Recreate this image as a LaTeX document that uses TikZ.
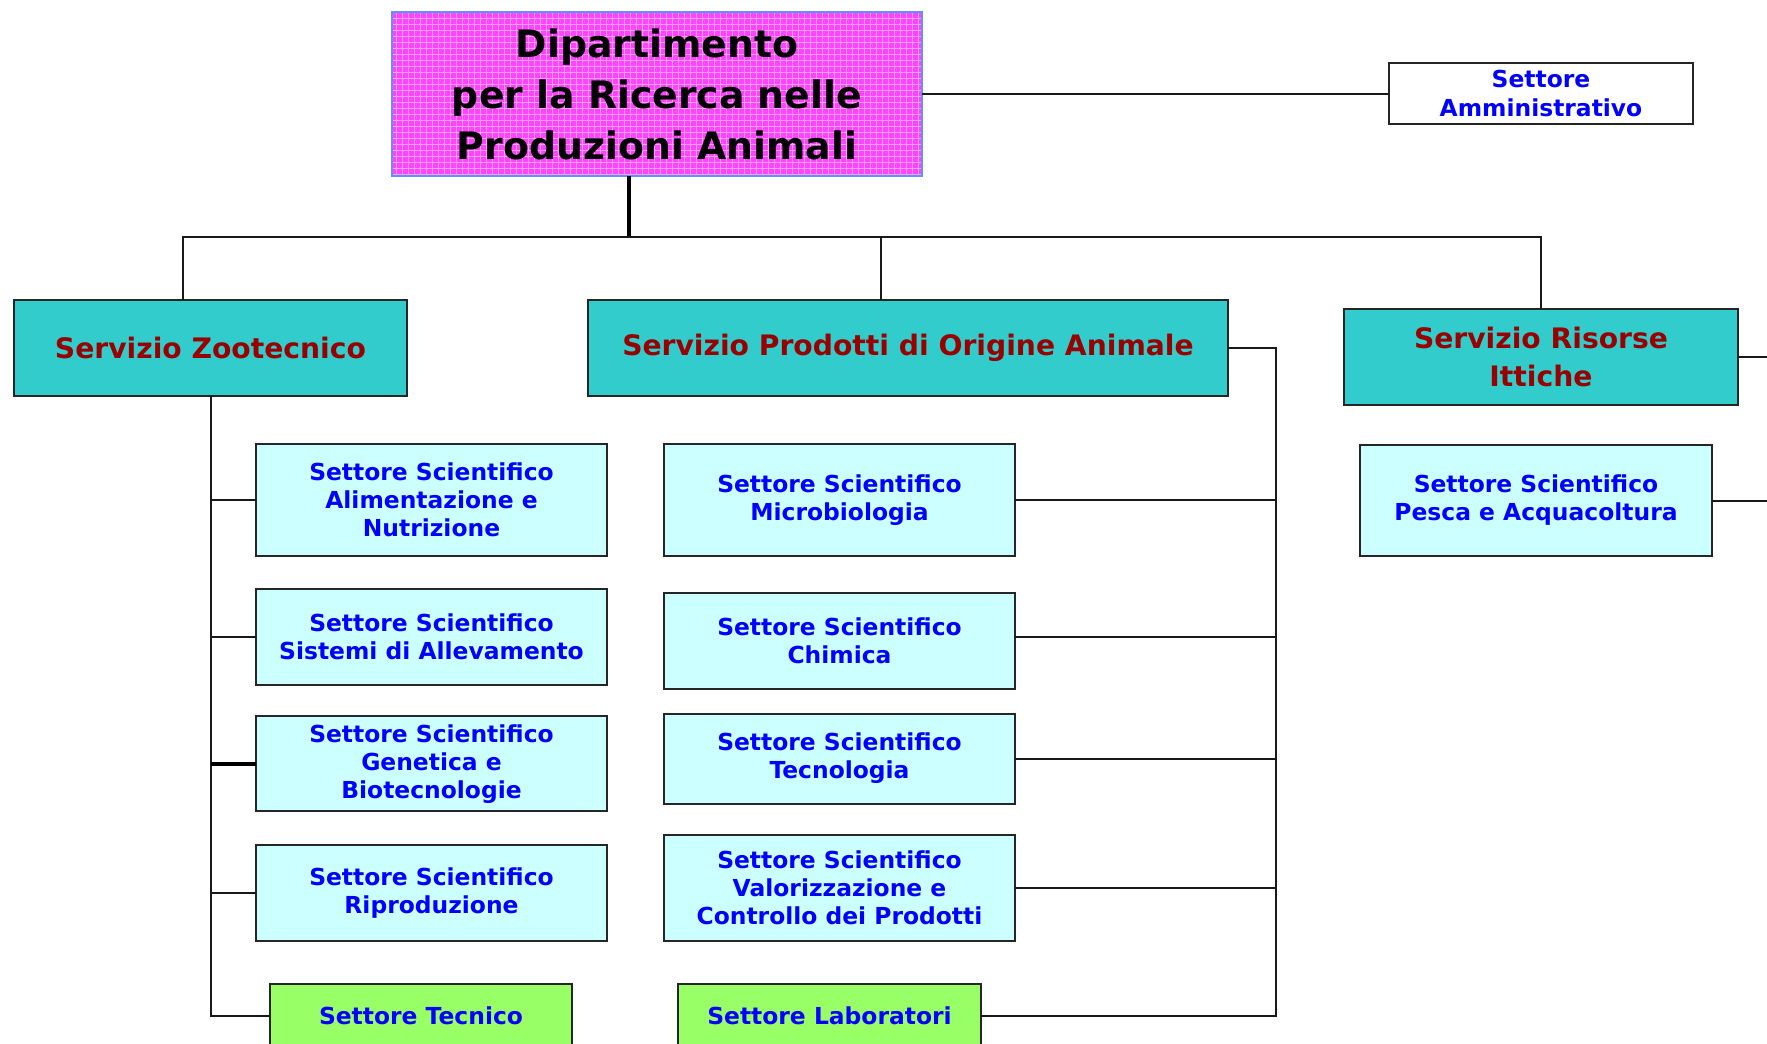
\documentclass[tikz,border=0pt]{standalone}
\usepackage{fontspec}
\setmainfont{DejaVu Sans}
\usepackage{tikz}
\usetikzlibrary{calc,patterns,positioning}

\definecolor{dipmag}{HTML}{FF44FF}
\definecolor{dipgrid}{HTML}{FFA0FF}
\definecolor{dipline}{HTML}{6090FF}
\definecolor{servteal}{HTML}{33CCCC}
\definecolor{servred}{HTML}{990000}
\definecolor{settcyan}{HTML}{CCFFFF}
\definecolor{tecgreen}{HTML}{99FF66}
\definecolor{settblue}{HTML}{0000FF}

\begin{document}
\begin{tikzpicture}[x=0.5pt, y=-0.5pt, auto]
	\tikzstyle{main}=[rectangle, draw=black!85, line width=1pt, inner sep=0pt, outer sep=0pt, align=center]
	\tikzstyle{dip}=[main, draw=dipline, preaction={fill=dipmag}, pattern=grid, pattern color=dipgrid, minimum width=265pt, minimum height=82pt, font=\fontsize{18.9}{25.5}\selectfont\bfseries]
	\tikzstyle{servizio}=[main, fill=servteal, text=servred, minimum height=48pt, font=\fontsize{14.1}{19}\selectfont\bfseries]
	\tikzstyle{settore}=[main, fill=settcyan, text=settblue, minimum width=175.5pt, font=\fontsize{11.7}{14}\selectfont\bfseries]
	\tikzstyle{tecnico}=[settore, fill=tecgreen, minimum width=151pt, minimum height=32pt]
	\tikzstyle{amm}=[settore, fill=white, minimum width=152pt, minimum height=30.5pt, font=\fontsize{11.7}{14.5}\selectfont\bfseries]
	\tikzstyle{link}=[line width=1pt, draw=black!90]
	\tikzstyle{trunk}=[line width=1.6pt, draw=black]
	
	\useasboundingbox (0,0) rectangle (1767,1044);
	
	\node[dip] (dip) at (657,94) {Dipartimento\\per la Ricerca nelle\\Produzioni Animali};
	\node[amm] (amm) at (1541,93.5) {Settore\\Amministrativo};
	
	\node[servizio, minimum width=196.5pt] (zoo) at (210.5,348) {Servizio Zootecnico};
	\node[servizio, minimum width=320pt] (pro) at (908,348) {Servizio Prodotti di Origine Animale};
	\node[servizio, minimum width=197pt] (ris) at (1541,357) {Servizio Risorse\\Ittiche};
	
	\node[settore, minimum height=56pt] (ali) at (431.5,500) {Settore Scientifico\\Alimentazione e\\Nutrizione};
	\node[settore, minimum height=48pt] (sis) [below=16.5pt of ali] {Settore Scientifico\\Sistemi di Allevamento};
	\node[settore, minimum height=47.5pt] (gen) [below=15.7pt of sis] {Settore Scientifico\\Genetica e\\Biotecnologie};
	\node[settore, minimum height=48pt] (rip) [below=16.6pt of gen] {Settore Scientifico\\Riproduzione};
	\node[tecnico] (tec) at (421,1016) {Settore Tecnico};
	
	\node[settore, minimum height=56pt] (mic) at (839.5,500) {Settore Scientifico\\Microbiologia};
	\node[settore, minimum height=48pt] (chi) [below=18.6pt of mic] {Settore Scientifico\\Chimica};
	\node[settore, minimum height=45pt] (tcn) [below=12.2pt of chi] {Settore Scientifico\\Tecnologia};
	\node[settore, minimum height=53pt] (val) [below=15.6pt of tcn] {Settore Scientifico\\Valorizzazione e\\Controllo dei Prodotti};
	\node[tecnico, minimum width=151.5pt] (lab) at (829.5,1016) {Settore Laboratori};
	
	\node[settore, minimum width=176pt, minimum height=55.5pt] (pesca) at (1536,500.5) {Settore Scientifico\\Pesca e Acquacoltura};
	
	% bus and rails
	\coordinate (bus) at (629,237);
	\coordinate (prail) at (1276,348);
	\coordinate (edge) at (1767,0);
	\coordinate (zootop) at ($(zoo.north west)!0.43!(zoo.north east)$);
	\coordinate (protop) at ($(pro.north west)!0.458!(pro.north east)$);
	
	\draw[link] (dip.east) -- (dip.east -| amm.west);
	\draw[trunk] (dip.south -| bus) -- (bus);
	\draw[link] (zootop) |- (ris.north |- bus) -- (ris.north);
	\draw[link] (protop) -- (protop |- bus);
	
	\draw[link] (zoo.south) |- (tec.west);
	\foreach \c in {ali,sis,rip}
		\draw[link] (zoo.south |- \c.west) -- (\c.west);
	\draw[trunk] (zoo.south |- gen.west) -- (gen.west);
	
	\draw[link] (pro.east) -- (pro.east -| prail) |- (lab.east);
	\draw[link] ([yshift=2pt]chi.east) -- ([yshift=2pt]chi.east -| prail);
	\foreach \c in {mic,tcn,val}
		\draw[link] (\c.east) -- (\c.east -| prail);
	
	\draw[link] (ris.east) -- (ris.east -| edge);
	\draw[link] (pesca.east) -- (pesca.east -| edge);
	
\end{tikzpicture}
\end{document}
